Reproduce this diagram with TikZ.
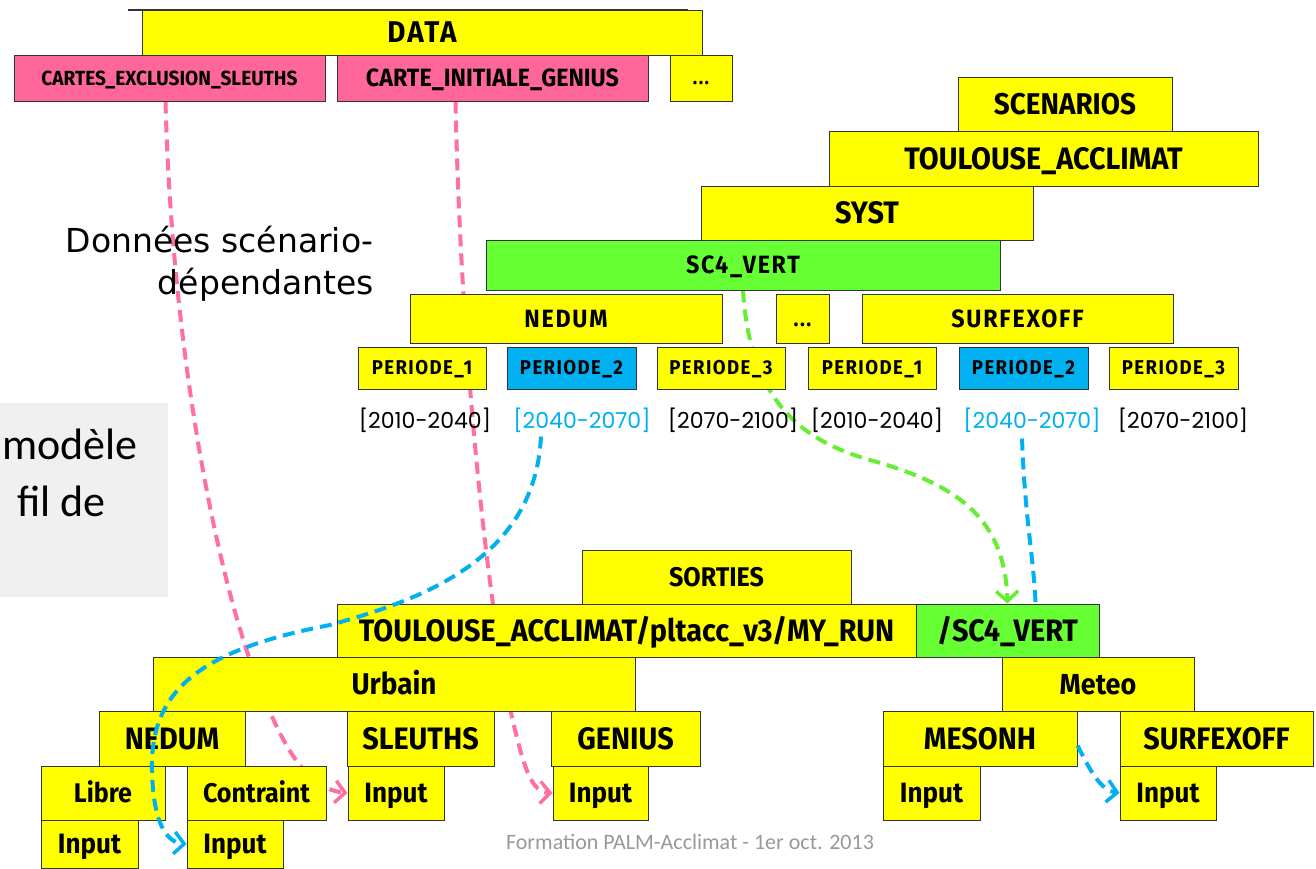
\documentclass[tikz,border=0pt]{standalone}
\usepackage{fontspec}
\setmainfont{Carlito}
\newfontfamily\boxfont{Fira Sans}[FakeStretch=0.93]
\newfontfamily\spfont{Fira Sans}[FakeStretch=0.93, LetterSpace=7]
\newfontfamily\geofont{Poppins}
\newfontfamily\comicfont{DejaVu Sans}
\newfontfamily\calfont{Carlito}
\usetikzlibrary{arrows.meta}
\definecolor{yel}{HTML}{FFFF00}
\definecolor{pinkbox}{HTML}{FF6699}
\definecolor{greenbox}{HTML}{66FF33}
\definecolor{bluebox}{HTML}{00B0F0}
\definecolor{pinkline}{HTML}{FF6F9F}
\definecolor{greenline}{HTML}{66EE33}
\definecolor{blueline}{HTML}{00B0F0}
\definecolor{graybg}{HTML}{F0F0F0}
\pgfdeclarelayer{back}
\pgfdeclarelayer{bg}
\pgfsetlayers{back,bg,main}
\tikzset{
  box/.style={draw=black!80, line width=1pt, inner sep=0pt, text=black},
  conn/.style={line width=4pt, dash pattern=on 12pt off 7pt},
  tip/.style={-{Straight Barb[length=10pt,width=22pt,line width=3.5pt]}},
  period/.style={font=\geofont\fontsize{22}{22}\selectfont, inner sep=0pt}
}
% #1 name #2 fill #3 x1 #4 y1 #5 x2 #6 y2 #7 size #8 text #9 family
\newcommand\bxg[9]{\pgfmathsetmacro\capht{0.69*#7}%
\node[box,fill=#2,minimum width={#5-#3},minimum height={#6-#4},text height=\capht pt, text depth=0pt, font={#9\bfseries\fontsize{#7}{#7}\selectfont}] (#1) at ({(#3+#5)/2},{(#4+#6)/2}) {#8};}
\newcommand\bx[8]{\bxg{#1}{#2}{#3}{#4}{#5}{#6}{#7}{#8}{\boxfont}}
\newcommand\bxs[8]{\bxg{#1}{#2}{#3}{#4}{#5}{#6}{#7}{#8}{\spfont}}
\begin{document}
\begin{tikzpicture}[x=1pt,y=-1pt]
\useasboundingbox (0,0) rectangle (1316,868);
\begin{pgfonlayer}{back}
\fill[white] (0,0) rectangle (1316,868);
\fill[graybg] (0,403) rectangle (168,597);
\end{pgfonlayer}
% gray panel text
\node[font=\calfont\fontsize{44}{44}\selectfont, anchor=base east, inner sep=0pt] (t1) at (138,459) {modèle};
\node[font=\calfont\fontsize{44}{44}\selectfont, anchor=base east, inner sep=0pt] (t2) at (106,516) {fil de};
% text Donnees
\node[font=\comicfont\fontsize{33}{33}\selectfont, anchor=base east, inner sep=0pt] (don1) at (374,252) {Données scénario-};
\node[font=\comicfont\fontsize{33}{33}\selectfont, anchor=base east, inner sep=0pt] (don2) at (374,294) {dépendantes};
% top line
\draw[black!80, line width=1.5pt] (128,10) -- (688,10);
% DATA part
\bxs{data}{yel}{142}{10}{702}{55}{30}{DATA}
\bx{ces}{pinkbox}{14}{55}{325}{101}{20.5}{CARTES\_EXCLUSION\_SLEUTHS}
\bx{cig}{pinkbox}{337}{55}{648}{101}{25}{CARTE\_INITIALE\_GENIUS}
\bxs{dd1}{yel}{670}{55}{732}{101}{20}{...}
% scenarios
\bx{scen}{yel}{958}{77}{1172}{131}{30}{SCENARIOS}
\bx{tla}{yel}{829}{131}{1258}{186}{31}{TOULOUSE\_ACCLIMAT}
\bx{syst}{yel}{701}{186}{1033}{240}{31}{SYST}
\bxs{sc4}{greenbox}{486}{240}{1000}{290}{25}{SC4\_VERT}
\bxs{ned}{yel}{410}{294}{722}{343}{25}{NEDUM}
\bxs{dd2}{yel}{776}{294}{829}{343}{22}{...}
\bxs{surf}{yel}{862}{294}{1173}{343}{25}{SURFEXOFF}
\bxs{p1}{yel}{358}{347}{486}{389}{20}{PERIODE\_1}
\bxs{p2}{bluebox}{507}{347}{636}{389}{20}{PERIODE\_2}
\bxs{p3}{yel}{657}{347}{785}{389}{20}{PERIODE\_3}
\bxs{p4}{yel}{808}{347}{936}{389}{20}{PERIODE\_1}
\bxs{p5}{bluebox}{959}{347}{1088}{389}{20}{PERIODE\_2}
\bxs{p6}{yel}{1109}{347}{1238}{389}{20}{PERIODE\_3}
\node[period] (l1) at (425,420) {[2010-2040]};
\node[period, text=bluebox] (l2) at (582,420) {[2040-2070]};
\node[period] (l3) at (733,420) {[2070-2100]};
\node[period] (l4) at (877,420) {[2010-2040]};
\node[period, text=bluebox] (l5) at (1032,420) {[2040-2070]};
\node[period] (l6) at (1183,420) {[2070-2100]};
% sorties
\bx{sort}{yel}{582}{550}{851}{604}{27}{SORTIES}
\bx{run}{yel}{337}{604}{916}{657}{31}{TOULOUSE\_ACCLIMAT/pltacc\_v3/MY\_RUN}
\bx{sc4b}{greenbox}{916}{604}{1099}{657}{31}{/SC4\_VERT}
\bx{urb}{yel}{153}{657}{635}{711}{30}{Urbain}
\bx{met}{yel}{1002}{657}{1194}{711}{29}{Meteo}
\bx{ned2}{yel}{99}{711}{245}{766}{31}{NEDUM}
\bx{sle}{yel}{347}{711}{494}{766}{31}{SLEUTHS}
\bx{gen}{yel}{551}{711}{700}{766}{31}{GENIUS}
\bx{meso}{yel}{883}{711}{1077}{766}{31}{MESONH}
\bx{surf2}{yel}{1120}{711}{1313}{766}{31}{SURFEXOFF}
\bx{lib}{yel}{41}{766}{165}{820}{27}{Libre}
\bx{con}{yel}{187}{766}{326}{820}{27}{Contraint}
\bx{sin}{yel}{348}{766}{444}{820}{28}{Input}
\bx{gin}{yel}{553}{766}{648}{820}{28}{Input}
\bx{min}{yel}{883}{766}{980}{820}{28}{Input}
\bx{sfin}{yel}{1120}{766}{1216}{820}{28}{Input}
\bx{lin}{yel}{41}{820}{138}{868}{28}{Input}
\bx{cin}{yel}{187}{820}{283}{868}{28}{Input}
% footer
\node[text=black!40, font=\calfont\fontsize{22}{22}\selectfont] (foot) at (690,842) {Formation PALM-Acclimat - 1er oct. 2013};
% connectors behind boxes
\begin{pgfonlayer}{bg}
\draw[conn, tip, pinkline] ([xshift=-4pt]ces.south) .. controls (172,350) and (215,560) .. (250,660) .. controls (275,730) and (300,788) .. (sin.west);
\draw[conn, tip, pinkline] ([xshift=-37pt]cig.south) .. controls (462,400) and (495,650) .. (515,730) .. controls (525,770) and (532,792) .. (gin.west);
\draw[conn, tip, greenline] (sc4.south) .. controls (750,400) and (800,440) .. (870,460) .. controls (960,485) and (1005,520) .. (sc4b.north);
\draw[conn, blueline] ([xshift=-10pt,yshift=-6pt]l5.south) .. controls (1025,520) and (1034,560) .. ([xshift=28pt]sc4b.north);
\end{pgfonlayer}
% connectors on top
\draw[conn, tip, blueline] ([xshift=-41pt,yshift=-4pt]l2.south) .. controls (535,560) and (420,600) .. (330,625) .. controls (200,650) and (150,690) .. (152,770) .. controls (153,820) and (165,842) .. (cin.west);
\draw[conn, tip, blueline] ([yshift=-7pt]meso.east) .. controls (1090,770) and (1100,790) .. (sfin.west);
\end{tikzpicture}
\end{document}
